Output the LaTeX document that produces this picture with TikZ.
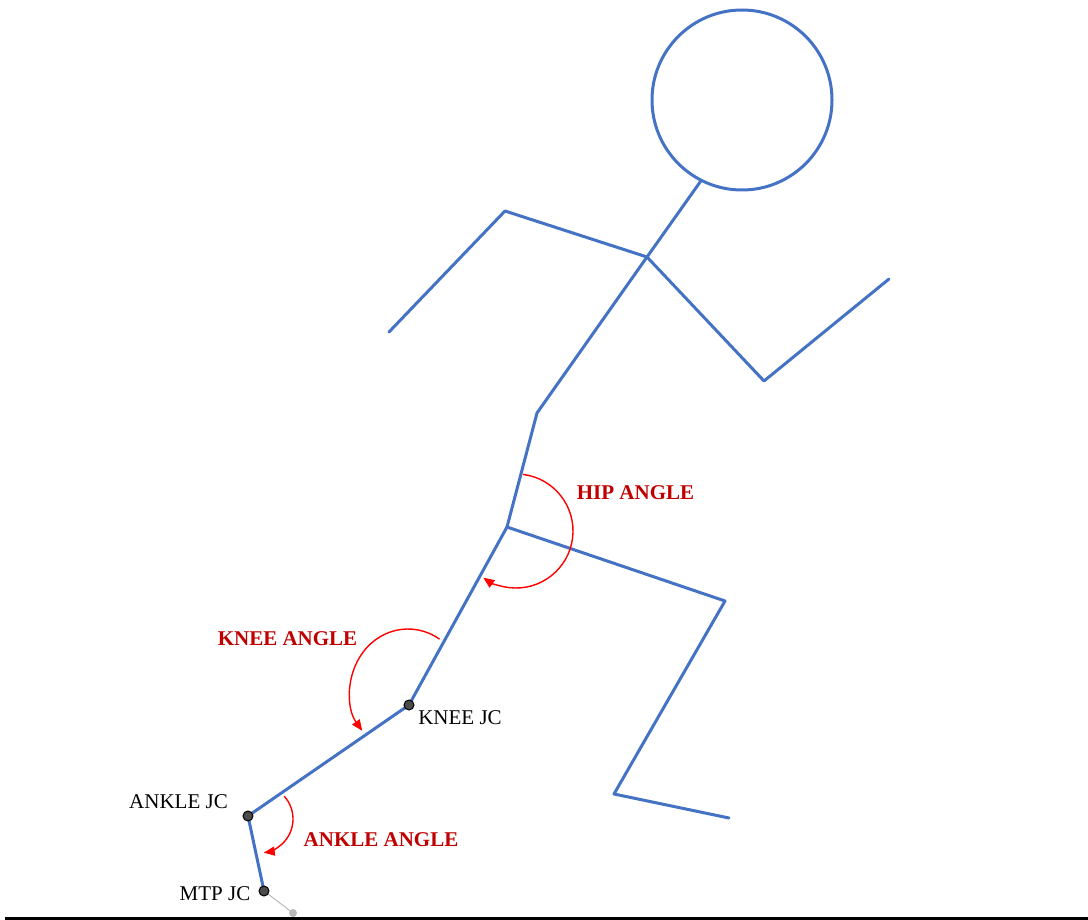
\documentclass[tikz,border=0pt]{standalone}
\usepackage{fontspec}
\setmainfont{Liberation Serif}
\usetikzlibrary{arrows.meta}
\definecolor{limb}{HTML}{4472C4}
\definecolor{angtext}{HTML}{C00000}
\begin{document}
\begin{tikzpicture}[x=1pt,y=-1pt,
  limbline/.style={draw=limb,line width=3pt,line join=round,line cap=round},
  angarc/.style={draw=red,line width=1.4pt,-{Triangle[length=11pt,width=9pt]}},
  anglabel/.style={text=angtext,font=\fontsize{21}{24}\selectfont\bfseries,inner sep=0pt},
  jointlabel/.style={font=\fontsize{21}{24}\selectfont,inner sep=0pt},
  jointdot/.style={circle,draw=black,fill=black!70,line width=1pt,minimum size=10pt,inner sep=0pt},
  toedot/.style={circle,fill=gray!55,minimum size=8pt,inner sep=0pt}]
\useasboundingbox (0,0) rectangle (1088,920);

% skeleton points
\coordinate (shoulder) at (647,257);
\coordinate (waist) at (537,413);
\coordinate (hip) at (507,527);
\coordinate (lelbow) at (505,211);
\coordinate (lhand) at (389,332);
\coordinate (relbow) at (764,381);
\coordinate (rhand) at (889,279);
\coordinate (fknee) at (725,601);
\coordinate (fankle) at (614,794);
\coordinate (ftoe) at (729,818);
\coordinate (knee) at (409,705);
\coordinate (ankle) at (248,816);
\coordinate (mtp) at (264,891);
\coordinate (toe) at (293,913);
\coordinate (groundL) at (5,918.5);
\coordinate (groundR) at (1088,918.5);

% head and neck
\node[circle,draw=limb,line width=3pt,minimum size=180pt,inner sep=0pt] (head) at (742,100) {};
\draw[limbline] (head.-117) -- (shoulder);

% arms, trunk and legs
\draw[limbline] (lhand) -- (lelbow) -- (shoulder) -- (relbow) -- (rhand);
\draw[limbline] (shoulder) -- (waist) -- (hip);
\draw[limbline] (hip) -- (fknee) -- (fankle) -- (ftoe);
\draw[limbline] (hip) -- (knee) -- (ankle) -- (mtp);

% toe segment and ground
\draw[gray!55,line width=1pt] (mtp) -- (toe);
\node[toedot] (toemark) at (toe) {};
\draw[line width=3pt] (groundL) -- (groundR);

% joint centres
\node[jointdot] (kneedot) at (knee) {};
\node[jointdot] (ankledot) at (ankle) {};
\node[jointdot] (mtpdot) at (mtp) {};

% joint angle arcs
\coordinate (hipc) at (516,531);
\coordinate (kneec) at (408,692);
\coordinate (anklec) at (259,819);
\draw[angarc] ([shift={(-83:57)}]hipc) arc[start angle=-83,end angle=125,radius=57];
\draw[angarc] ([shift={(-57:58 and 63)}]kneec) arc[start angle=-57,end angle=-218,x radius=58,y radius=63];
\draw[angarc] ([shift={(-42:34)}]anklec) arc[start angle=-42,end angle=82,radius=34];

% labels
\node[anglabel] (hiplab) at (635.5,493) {HIP ANGLE};
\node[anglabel] (kneelab) at (287.5,638.5) {KNEE ANGLE};
\node[anglabel] (anklelab) at (381,840) {ANKLE ANGLE};
\node[jointlabel] (kneejc) at (460,718) {KNEE JC};
\node[jointlabel] (anklejc) at (178.5,801.5) {ANKLE JC};
\node[jointlabel] (mtpjc) at (215,894) {MTP JC};
\end{tikzpicture}
\end{document}
